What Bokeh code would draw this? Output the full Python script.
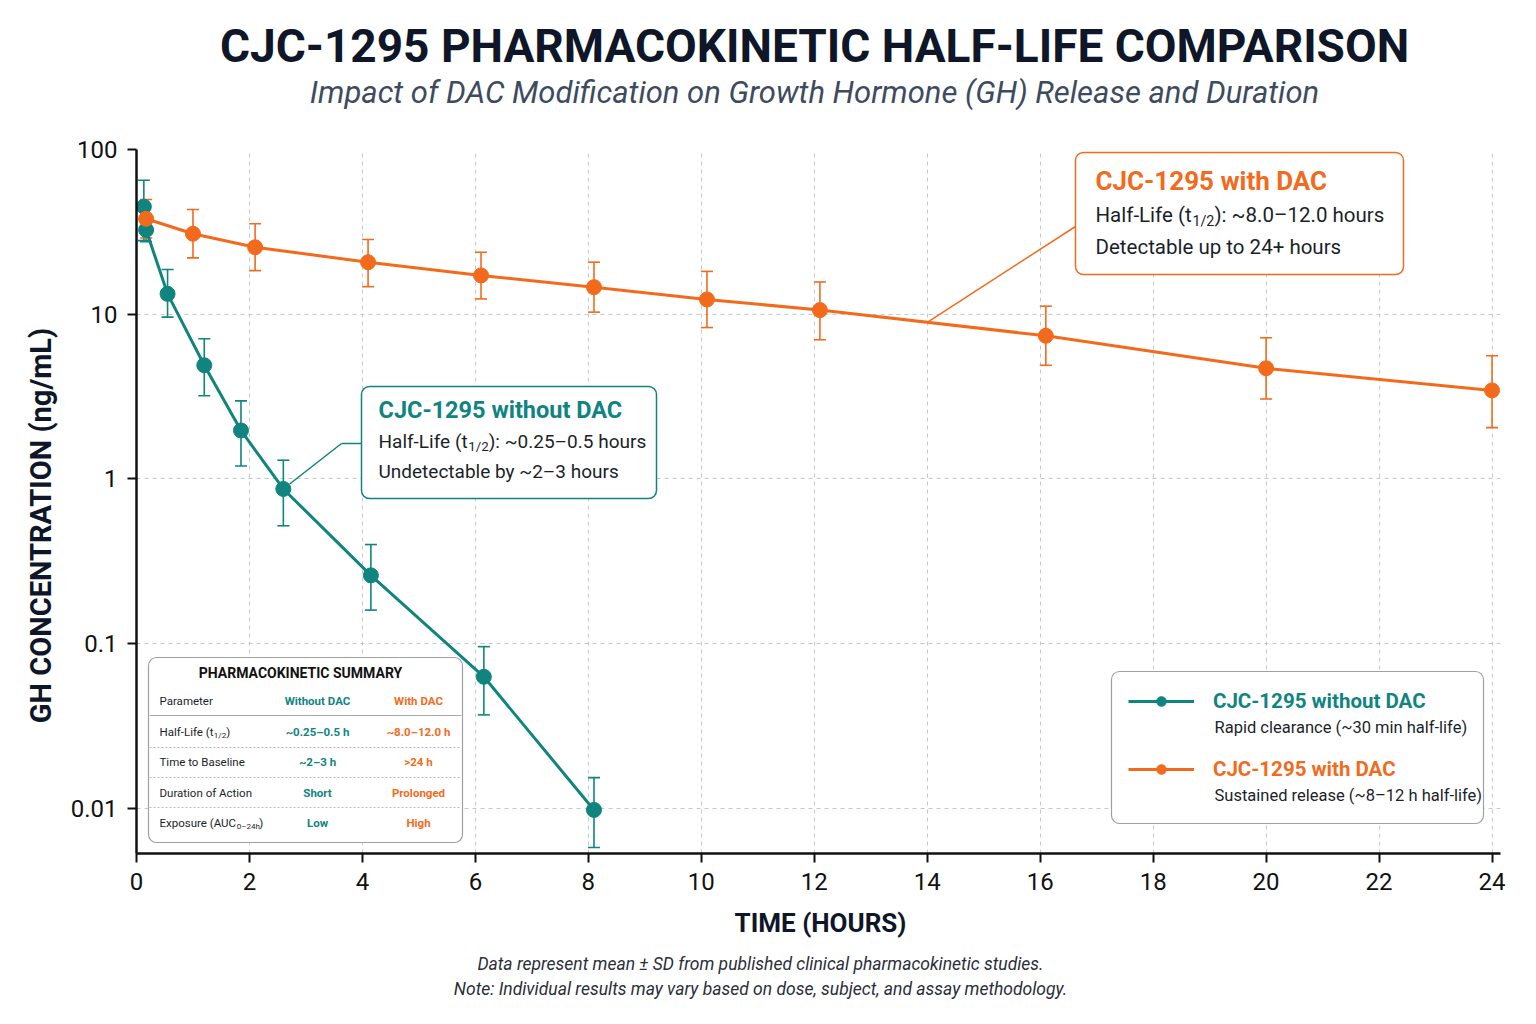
import re
import math
import numpy as np
from bokeh.plotting import figure
from bokeh.layouts import row, column
from bokeh.models import (ColumnDataSource, Whisker, TeeHead, Label, BoxAnnotation,
                          PolyAnnotation, Legend, FixedTicker, Range1d)
from bokeh.embed import file_html
from bokeh.resources import INLINE

# ---------------- data ----------------
TITLE = "CJC-1295 PHARMACOKINETIC HALF-LIFE COMPARISON"
SUBTITLE = "Impact of DAC Modification on Growth Hormone (GH) Release and Duration"
X_LABEL = "TIME (HOURS)"
Y_LABEL = "GH CONCENTRATION (ng/mL)"
FOOTNOTES = ["Data represent mean \u00b1 SD from published clinical pharmacokinetic studies.",
             "Note: Individual results may vary based on dose, subject, and assay methodology."]

SERIES_NO_DAC = "CJC-1295 without DAC"
SERIES_DAC = "CJC-1295 with DAC"

time_no_dac = [0.13, 0.17, 0.55, 1.2, 1.85, 2.6, 4.15, 6.15, 8.1]
conc_no_dac = [45.0, 32.5, 13.3, 4.9, 1.97, 0.87, 0.26, 0.063, 0.0098]
upper_no_dac = [65.0, 38.0, 18.7, 7.1, 2.98, 1.3, 0.40, 0.096, 0.0154]
lower_no_dac = [28.0, 27.6, 9.6, 3.2, 1.2, 0.52, 0.16, 0.037, 0.0058]

time_dac = [0.17, 1.0, 2.1, 4.1, 6.1, 8.1, 10.1, 12.1, 16.1, 20.0, 24.0]
conc_dac = [38.0, 30.8, 25.5, 20.7, 17.2, 14.6, 12.3, 10.6, 7.4, 4.7, 3.45]
upper_dac = [49.7, 43.2, 35.4, 28.4, 23.8, 20.7, 18.2, 15.7, 11.2, 7.2, 5.6]
lower_dac = [29.0, 22.0, 18.4, 14.7, 12.4, 10.3, 8.3, 7.0, 4.9, 3.06, 2.05]

x_ticks = [0, 2, 4, 6, 8, 10, 12, 14, 16, 18, 20, 22, 24]
y_ticks = [0.01, 0.1, 1, 10, 100]
y_tick_labels = ["0.01", "0.1", "1", "10", "100"]

legend_desc = ["Rapid clearance (~30 min half-life)", "Sustained release (~8\u201312 h half-life)"]
callout_no_dac = ["Half-Life (t_{1/2}): ~0.25\u20130.5 hours", "Undetectable by ~2\u20133 hours"]
callout_dac = ["Half-Life (t_{1/2}): ~8.0\u201312.0 hours", "Detectable up to 24+ hours"]

table_title = "PHARMACOKINETIC SUMMARY"
table_header = ["Parameter", "Without DAC", "With DAC"]
pk_params = ["Half-Life (t_{1/2})", "Time to Baseline", "Duration of Action", "Exposure (AUC_{0\u201324h})"]
pk_without = ["~0.25\u20130.5 h", "~2\u20133 h", "Short", "Low"]
pk_with = ["~8.0\u201312.0 h", ">24 h", "Prolonged", "High"]

# ---------------- style / geometry ----------------
TEAL = "#10847f"
ORANGE = "#f26b1d"
NAVY = "#0e1628"
SLATE = "#3e4b5f"
DARK = "#1b1f2a"
GRID = "#c8c8c8"
FONT = "Roboto"

W, H = 1536, 1024
STRIP_W = 60            # left strip holding the y-axis title
HEAD_H = 130            # header strip (title + subtitle)
MAIN_BOTTOM = 902       # canvas y where the main figure ends
FL, FR, FT, FB = 136, 1500, 149, 853   # main frame in canvas pixels
Y_MIN, Y_MAX = 0.00533, 100.0
X_MIN, X_MAX = 0, 24.15
BASELINE_FIX = 0.38     # rendered alphabetic baseline sits this many em lower


def blank(w, h, bl=0, br=0):
    f = figure(width=w, height=h, x_range=Range1d(0, 1), y_range=Range1d(0, 1),
               output_backend="svg", toolbar_location=None, title_location=None,
               x_axis_location=None, y_axis_location=None, min_border=0,
               min_border_left=bl, min_border_right=br, min_border_top=0, min_border_bottom=0)
    f.grid.visible = False
    f.outline_line_color = None
    f.background_fill_color = "#ffffff"
    f.border_fill_color = "#ffffff"
    return f


def put(fig, left, bottom, cx, cy, text, size, color=DARK, font=FONT, style="normal",
        align="left", baseline="alphabetic", angle=0.0):
    """Place a label at canvas pixel (cx, cy); (left, bottom) is the figure frame's canvas origin."""
    if baseline == "alphabetic":
        cy -= BASELINE_FIX * size
    fig.add_layout(Label(x=cx - left, y=bottom - cy, x_units="screen", y_units="screen", text=text,
                         text_font=font, text_font_size=f"{size:.1f}px", text_font_style=style,
                         text_color=color, text_align=align, text_baseline=baseline, angle=angle))

# ---------------- main figure ----------------
p = figure(width=W - STRIP_W, height=MAIN_BOTTOM - HEAD_H,
           x_range=Range1d(X_MIN, X_MAX), y_range=Range1d(Y_MIN, Y_MAX),
           y_axis_type="log", output_backend="svg", toolbar_location=None, title_location=None,
           min_border_left=FL - STRIP_W, min_border_right=W - FR,
           min_border_top=FT - HEAD_H, min_border_bottom=MAIN_BOTTOM - FB)
p.background_fill_color = "#ffffff"
p.border_fill_color = "#ffffff"
p.outline_line_color = None

for g in (p.xgrid, p.ygrid):
    g.grid_line_color = GRID
    g.grid_line_dash = "4 4"
    g.grid_line_width = 1
p.ygrid.minor_grid_line_color = None

p.xaxis.ticker = FixedTicker(ticks=x_ticks)
p.yaxis.ticker = FixedTicker(ticks=y_ticks, minor_ticks=[])
p.yaxis.major_label_overrides = {t: l for t, l in zip(y_ticks, y_tick_labels)}
for ax in (p.xaxis, p.yaxis):
    ax.axis_line_color = "#111111"
    ax.axis_line_width = 2.5
    ax.major_tick_line_color = "#111111"
    ax.major_tick_line_width = 2
    ax.major_tick_out = 9
    ax.major_tick_in = 0
    ax.minor_tick_line_color = None
    ax.major_label_text_font = FONT
    ax.major_label_text_font_size = "24px"
    ax.major_label_text_color = "#111111"
    ax.major_label_standoff = 10

src_no = ColumnDataSource(dict(t=time_no_dac, c=conc_no_dac, hi=upper_no_dac, lo=lower_no_dac))
src_dac = ColumnDataSource(dict(t=time_dac, c=conc_dac, hi=upper_dac, lo=lower_dac))

renderers = {}
for key, src, col in (("no", src_no, TEAL), ("dac", src_dac, ORANGE)):
    p.add_layout(Whisker(source=src, base="t", upper="hi", lower="lo", dimension="height",
                         line_color=col, line_width=1.6,
                         upper_head=TeeHead(size=12, line_color=col, line_width=1.6),
                         lower_head=TeeHead(size=12, line_color=col, line_width=1.6)))
    ln = p.line("t", "c", source=src, line_color=col, line_width=3)
    sc = p.scatter("t", "c", source=src, size=15, fill_color=col, line_color=col)
    renderers[key] = (ln, sc)


def sx(t):
    return FL + (t - X_MIN) / (X_MAX - X_MIN) * (FR - FL)


def sy(v):
    lo, hi = math.log10(Y_MIN), math.log10(Y_MAX)
    return FB - (math.log10(v) - lo) / (hi - lo) * (FB - FT)


def mput(cx, cy, text, size, color=DARK, **kw):
    put(p, FL, FB, cx, cy, text, size, color, **kw)


_EM = {' ': .248, '.': .263, ',': .196, ':': .242, 'i': .243, 'l': .243, 'j': .239, 'I': .272,
       'f': .347, 't': .327, 'r': .339, '(': .342, ')': .348, '/': .412, '-': .276, '\u2013': .56,
       '~': .679, '>': .508, '+': .567, 'm': .876, 'w': .751, 'M': .873, 'W': .887, 's': .516,
       'c': .523, 'e': .529, 'a': .544, 'k': .507, 'v': .484, 'x': .496, 'y': .473, 'z': .496,
       'h': .551, 'n': .552, 'u': .551, 'o': .570, 'b': .561, 'd': .563, 'p': .561, 'g': .561,
       'q': .568}


def tw(s, size, bold=False):
    w = 0.0
    for ch in s:
        if ch in _EM:
            e = _EM[ch]
        elif ch.isdigit():
            e = .562
        elif ch.isupper():
            e = .64
        else:
            e = .55
        w += e
    return w * size * (1.04 if bold else 1.0)


def rich(cx, cy, s, size, color=DARK, bold=False):
    parts = re.split(r"_\{([^}]*)\}", s)
    segs = [(t, i % 2 == 1) for i, t in enumerate(parts) if t]
    x = cx
    for t, sub in segs:
        sz = size * 0.7 if sub else size
        mput(x, cy + (size * 0.18 if sub else 0), t, sz, color, style="bold" if bold else "normal")
        x += tw(t, sz, bold)


def box(l, t, r, b, line, width=1.2, radius=8):
    p.add_layout(BoxAnnotation(left=l - FL, right=r - FL, top=FB - t, bottom=FB - b,
                               left_units="screen", right_units="screen", top_units="screen",
                               bottom_units="screen", fill_color="#ffffff", fill_alpha=1.0,
                               line_color=line, line_alpha=1.0, line_width=width,
                               border_radius=radius, level="annotation"))


def seg(x0, y0, x1, y1, color, width=1.5, dash="solid"):
    p.add_layout(PolyAnnotation(xs=[x0 - FL, x1 - FL], ys=[FB - y0, FB - y1], xs_units="screen",
                                ys_units="screen", fill_alpha=0, line_color=color, line_alpha=1.0,
                                line_width=width, line_dash=dash))

# callout: without DAC
ax_, ay_ = sx(time_no_dac[5]), sy(conc_no_dac[5])
ex, ey = 341, 443
d = math.hypot(ex - ax_, ey - ay_)
seg(361, 443, ex, ey, TEAL)
seg(ex, ey, ax_ + (ex - ax_) * 8 / d, ay_ + (ey - ay_) * 8 / d, TEAL)
box(361, 386, 656, 498, TEAL, 1.5)
mput(378, 418, SERIES_NO_DAC, 23.5, TEAL, style="bold")
rich(378, 448, callout_no_dac[0], 19, DARK)
rich(378, 478, callout_no_dac[1], 19, DARK)

# callout: with DAC
c14 = 10 ** float(np.interp(14.0, time_dac, np.log10(conc_dac)))
seg(1075, 226, sx(14.0), sy(c14), ORANGE)
box(1075, 152, 1403, 274, ORANGE, 1.5)
mput(1095, 190, SERIES_DAC, 26, ORANGE, style="bold")
rich(1095, 222, callout_dac[0], 20.5, DARK)
rich(1095, 254, callout_dac[1], 20.5, DARK)

# summary table
box(148, 657, 462, 842, "#a0a0a0", 1.2)
mput(300, 678, table_title, 14, "#111111", style="bold", align="center")
mput(159, 705, table_header[0], 11.5, DARK)
mput(317, 705, table_header[1], 11.5, TEAL, style="bold", align="center")
mput(418, 705, table_header[2], 11.5, ORANGE, style="bold", align="center")
seg(149, 715, 461, 715, "#a8a8a8", 1.2)
row_y = [736, 766, 797, 827]
for i, yy in enumerate(row_y):
    rich(159, yy, pk_params[i], 11.5, DARK)
    mput(317, yy, pk_without[i], 11.5, TEAL, style="bold", align="center")
    mput(418, yy, pk_with[i], 11.5, ORANGE, style="bold", align="center")
for yy in (747, 777, 807):
    seg(149, yy, 461, yy, "#bdbdbd", 1, "2 2")

# legend
box(1111, 671, 1483, 823, "#a0a0a0", 1.2)
for key, col, name, desc, cy in (("no", TEAL, SERIES_NO_DAC, legend_desc[0], 701),
                                  ("dac", ORANGE, SERIES_DAC, legend_desc[1], 769)):
    h = 24
    leg = Legend(items=[(name, list(renderers[key]))], location=(1128 - FL, FB - (cy + h / 2)),
                 orientation="vertical", padding=0, margin=0, spacing=0,
                 border_line_color=None, background_fill_alpha=0,
                 glyph_width=66, glyph_height=h, label_height=h, label_standoff=19,
                 label_text_font=FONT, label_text_font_size="20.5px", label_text_font_style="bold",
                 label_text_color=col, label_text_baseline="middle")
    p.add_layout(leg, "center")
    mput(1214, cy + 32, desc, 16.5, DARK)

# ---------------- header, y-title strip, footer ----------------
# header/footer frames share the main frame's left/right edges (canvas FL..FR)
header = blank(W - STRIP_W, HEAD_H, FL - STRIP_W, W - FR)
put(header, FL, HEAD_H, 814, 63, TITLE, 46, NAVY, style="bold", align="center")
put(header, FL, HEAD_H, 814, 104, SUBTITLE, 31, SLATE, style="italic", align="center")

strip = blank(STRIP_W, H)
put(strip, 0, H, 40, 525, Y_LABEL, 29, NAVY, style="bold", align="center", baseline="middle",
    angle=math.pi / 2)

footer = blank(W - STRIP_W, H - MAIN_BOTTOM, FL - STRIP_W, W - FR)
put(footer, FL, H, 820, 932, X_LABEL, 26, NAVY, style="bold", align="center")
put(footer, FL, H, 760, 970, FOOTNOTES[0], 17.5, "#2a2f3a", style="italic", align="center")
put(footer, FL, H, 760, 995, FOOTNOTES[1], 17.5, "#2a2f3a", style="italic", align="center")

layout = row(strip, column(header, p, footer, spacing=0), spacing=0)
open("out.html", "w").write(file_html(layout, INLINE))
